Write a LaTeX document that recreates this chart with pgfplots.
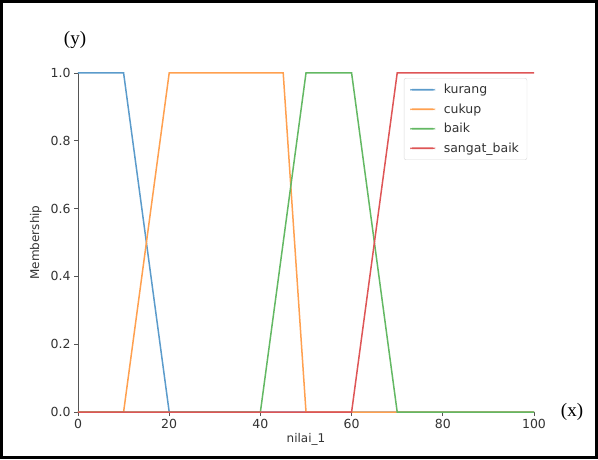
\documentclass[border=0pt]{standalone}
\usepackage{fontspec}
\setmainfont{DejaVu Sans}
\newfontfamily\serifx{Liberation Serif}
\usepackage{pgfplots}
\pgfplotsset{compat=1.18}
\definecolor{tabblue}{HTML}{5B9BCB}
\definecolor{taborange}{HTML}{FFA04F}
\definecolor{tabgreen}{HTML}{63B863}
\definecolor{tabred}{HTML}{DE5556}
\definecolor{spine}{HTML}{555555}
\begin{document}
\begin{tikzpicture}[x=1pt,y=1pt]
% frame of the screenshot
\draw[line width=3pt] (1.5,1.5) rectangle (596.5,457.5);
\begin{axis}[
  at={(78pt,47pt)}, anchor=south west,
  scale only axis, width=456pt, height=339pt,
  xmin=0, xmax=100, ymin=0, ymax=1,
  axis x line=bottom, axis y line=left,
  axis line style={-, draw=spine, line width=0.9pt},
  tick align=outside, major tick length=4pt,
  tick style={draw=spine, line width=0.9pt},
  xtick={0,20,40,60,80,100},
  ytick={0,0.2,0.4,0.6,0.8,1.0},
  yticklabel style={/pgf/number format/fixed, /pgf/number format/precision=1, /pgf/number format/fixed zerofill},
  /pgf/number format/assume math mode=true,
  ticklabel style={font=\fontsize{12.5}{14}\selectfont, text=black!80},
  xlabel={nilai\_1}, ylabel={Membership},
  label style={font=\fontsize{12}{14}\selectfont, text=black!80},
  xlabel style={yshift=2pt},
  ylabel style={yshift=2pt},
  clip=false,
  every axis plot/.append style={line width=1.5pt},
  legend style={at={(0.985,0.985)}, anchor=north east, draw=black!15, fill=white,
    rounded corners=2pt, font=\fontsize{12.5}{14}\selectfont, text=black!80,
    row sep=4.5pt, inner xsep=6pt, inner ysep=4pt},
  legend cell align=left,
  legend image code/.code={\fill[#1, draw=none] (0pt,-0.8pt) rectangle (25pt,0.8pt);
    \path (31pt,0pt);},
]
\addplot[tabblue] coordinates {(0,1) (10,1) (20,0) (100,0)};
\addlegendentry{kurang}
\addplot[taborange] coordinates {(0,0) (10,0) (20,1) (45,1) (50,0) (100,0)};
\addlegendentry{cukup}
\addplot[tabgreen] coordinates {(0,0) (40,0) (50,1) (60,1) (70,0) (100,0)};
\addlegendentry{baik}
\addplot[tabred] coordinates {(0,0) (60,0) (70,1) (100,1)};
\addlegendentry{sangat\_baik}
\end{axis}
\node[font=\serifx\fontsize{19}{22}\selectfont] at (75,419) {(y)};
\node[font=\serifx\fontsize{19}{22}\selectfont] at (572,47) {(x)};
\end{tikzpicture}
\end{document}
